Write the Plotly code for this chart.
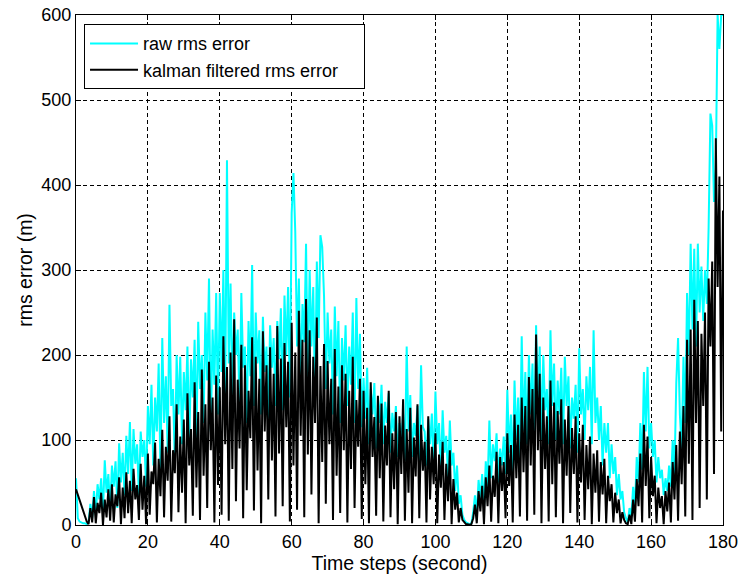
import plotly.graph_objects as go

# time step between samples (seconds)
step = 0.5

raw_rms = [
    55, 8, 4, 3, 2, 2, 1, 3, 25, 8,
    40, 12, 48, 30, 55, 15, 76, 38, 60, 18,
    70, 45, 75, 20, 96, 50, 85, 35, 105, 60,
    121, 40, 113, 72, 95, 35, 110, 80, 100, 45,
    140, 95, 165, 70, 150, 110, 190, 60, 220, 120,
    175, 85, 259, 140, 160, 70, 200, 130, 198, 95,
    180, 135, 210, 90, 195, 150, 218, 100, 239, 160,
    200, 120, 250, 170, 290, 110, 230, 165, 273, 130,
    273, 180, 300, 140, 429, 190, 284, 150, 250, 200,
    230, 135, 273, 185, 210, 120, 240, 175, 306, 140,
    250, 190, 229, 130, 245, 180, 210, 125, 235, 185,
    220, 140, 240, 195, 255, 135, 270, 200, 280, 150,
    367, 414, 345, 210, 290, 160, 260, 215, 331, 170,
    300, 210, 280, 150, 310, 220, 341, 327, 270, 160,
    250, 190, 230, 130, 257, 175, 240, 120, 220, 170,
    235, 140, 210, 165, 250, 120, 267, 160, 225, 115,
    173, 125, 185, 95, 160, 130, 167, 90, 150, 120,
    165, 95, 145, 120, 155, 85, 132, 110, 140, 80,
    120, 100, 130, 75, 210, 110, 153, 80, 120, 105,
    140, 75, 188, 115, 110, 70, 125, 95, 131, 65,
    157, 95, 120, 60, 135, 85, 105, 55, 123, 70,
    85, 40, 70, 25, 35, 12, 6, 3, 2, 1,
    2, 15, 35, 12, 53, 30, 60, 20, 75, 45,
    123, 55, 95, 75, 108, 50, 90, 70, 104, 60,
    159, 85, 130, 60, 170, 100, 150, 75, 222, 110,
    180, 95, 200, 130, 190, 85, 235, 140, 210, 100,
    200, 135, 160, 95, 229, 140, 190, 100, 170, 130,
    185, 95, 198, 140, 175, 90, 150, 125, 165, 85,
    208, 130, 160, 100, 175, 135, 186, 95, 229, 120,
    150, 100, 140, 70, 120, 85, 120, 55, 95, 60,
    80, 35, 60, 30, 40, 15, 8, 3, 20, 10,
    45, 20, 80, 50, 120, 65, 180, 110, 186, 90,
    120, 80, 100, 50, 80, 55, 65, 35, 55, 40,
    70, 45, 100, 60, 167, 220, 130, 90, 198, 120,
    273, 200, 331, 230, 325, 210, 331, 250, 304, 240,
    300, 260, 350, 484, 470, 380, 420, 600, 560, 600,
    600,
]

kalman_rms = [
    42, 36, 30, 24, 17, 10, 4, 1, 20, 3,
    33, 2, 26, 14, 38, 0, 30, 9, 42, 5,
    48, 3, 36, 22, 56, 1, 44, 8, 62, 14,
    52, 2, 66, 30, 47, 6, 72, 18, 58, 1,
    84, 12, 63, 48, 97, 3, 78, 34, 112, 9,
    92, 52, 128, 4, 88, 61, 142, 15, 104, 38,
    124, 2, 155, 70, 113, 11, 168, 44, 133, 6,
    183, 58, 142, 20, 192, 88, 150, 3, 176, 47,
    162, 12, 222, 95, 186, 5, 203, 66, 242, 28,
    171, 90, 212, 8, 188, 41, 158, 102, 221, 17,
    198, 64, 172, 2, 228, 110, 188, 30, 209, 76,
    178, 10, 234, 84, 196, 22, 214, 115, 192, 4,
    238, 70, 203, 18, 252, 105, 218, 9, 266, 83,
    229, 36, 198, 120, 244, 2, 187, 74, 213, 25,
    193, 95, 172, 6, 207, 58, 163, 14, 188, 88,
    178, 3, 158, 66, 198, 20, 147, 92, 172, 7,
    158, 48, 138, 2, 168, 80, 127, 11, 152, 55,
    143, 4, 117, 70, 158, 9, 108, 42, 133, 1,
    128, 60, 148, 5, 113, 38, 138, 2, 103, 57,
    142, 8, 118, 64, 98, 3, 128, 30, 92, 48,
    108, 2, 83, 44, 98, 6, 72, 28, 88, 1,
    54, 18, 38, 3, 20, 6, 3, 1, 1, 0,
    1, 8, 24, 2, 40, 16, 46, 1, 56, 22,
    70, 4, 58, 33, 86, 2, 80, 40, 74, 8,
    108, 46, 94, 3, 130, 55, 118, 10, 150, 62,
    140, 5, 174, 70, 160, 12, 224, 88, 178, 2,
    150, 66, 128, 4, 170, 48, 144, 9, 134, 72,
    148, 2, 124, 58, 140, 14, 114, 60, 128, 3,
    108, 50, 118, 6, 94, 42, 104, 1, 84, 38,
    88, 4, 74, 36, 78, 2, 58, 28, 48, 3,
    38, 14, 30, 2, 15, 6, 2, 1, 12, 1,
    30, 4, 54, 22, 84, 3, 118, 46, 104, 8,
    80, 34, 58, 2, 44, 20, 34, 1, 40, 16,
    50, 3, 74, 30, 94, 5, 110, 48, 140, 10,
    218, 72, 230, 6, 265, 120, 240, 20, 225, 140,
    250, 30, 290, 210, 310, 60, 455, 280, 410, 110,
    370,
]

x_ticks = [0, 20, 40, 60, 80, 100, 120, 140, 160, 180]
y_ticks = [0, 100, 200, 300, 400, 500, 600]

t = [i * step for i in range(len(raw_rms))]

FONT = "Liberation Sans, Arial, Helvetica, sans-serif"
PAD = "\u00a0\u00a0\u00a0\u00a0"

fig = go.Figure()
fig.add_trace(go.Scatter(x=t, y=raw_rms, mode="lines", name="raw rms error",
                         line=dict(color="#00FFFF", width=2)))
fig.add_trace(go.Scatter(x=t, y=kalman_rms, mode="lines", name="kalman filtered rms error" + PAD,
                         line=dict(color="black", width=2)))

axis_common = dict(
    showline=True, linecolor="black", linewidth=1, mirror="allticks",
    ticks="inside", ticklen=5, tickcolor="black",
    showgrid=True, gridcolor="black", gridwidth=1, griddash="4px,3px",
    zeroline=False, tickfont=dict(family=FONT, size=18, color="black"),
)

fig.update_xaxes(range=[0, 180], tickvals=x_ticks, automargin=False,
                 title=dict(text="Time steps (second)", font=dict(family=FONT, size=19.5, color="black"), standoff=5),
                 **axis_common)
fig.update_yaxes(range=[0, 600], tickvals=y_ticks, automargin=False,
                 title=dict(text="rms error (m)", font=dict(family=FONT, size=19.5, color="black"), standoff=3),
                 **axis_common)

fig.update_layout(
    width=740, height=582,
    margin=dict(l=76, r=17, t=15, b=57),
    paper_bgcolor="white", plot_bgcolor="white",
    font=dict(family=FONT, size=18, color="black"),
    legend=dict(x=0.0124, y=0.982, xanchor="left", yanchor="top",
                bgcolor="white", bordercolor="black", borderwidth=1,
                font=dict(family=FONT, size=18, color="black"),
                itemwidth=48, tracegroupgap=0),
    showlegend=True,
)

fig.write_html("out.html")
